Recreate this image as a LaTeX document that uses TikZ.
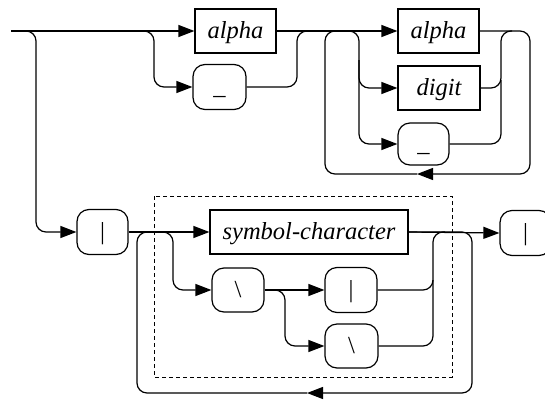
\documentclass[tikz,border=0pt]{standalone}
\usepackage{fontspec}
\setmainfont{Liberation Serif}
\usetikzlibrary{arrows.meta}
\tikzset{
  nt/.style={draw, line width=1.2pt, inner sep=0pt, text height=19pt, text depth=5pt, font=\fontsize{24.5}{28}\selectfont\itshape},
  tm/.style={draw, line width=1.2pt, inner sep=0pt, text height=19pt, text depth=5pt, rounded corners=12pt, font=\fontsize{24.5}{28}\selectfont},
  conn/.style={line width=1.2pt, rounded corners=10pt},
  arr/.style={conn, -{Triangle[length=16pt,width=12pt]}},
  frame/.style={line width=0.9pt, dash pattern=on 4pt off 3pt}
}
\begin{document}
\begin{tikzpicture}[x=1pt,y=-1pt]
\useasboundingbox (0,0) rectangle (545,399);
\clip (0,0) rectangle (545,399);
% nodes
\node[nt, minimum width=81pt, minimum height=44pt] (A1) at (235.5,31) {alpha};
\node[tm, minimum width=53pt, minimum height=45pt] (U1) at (219.5,87) {\char`\_};
\node[nt, minimum width=81pt, minimum height=44pt] (A2) at (438.5,31) {alpha};
\node[nt, minimum width=82pt, minimum height=44pt] (D) at (439,88) {digit};
\node[tm, minimum width=51pt, minimum height=42pt] (U2) at (423.5,144) {\char`\_};
\node[tm, minimum width=51pt, minimum height=45pt] (P1) at (102.5,232) {|};
\node[nt, minimum width=198pt, minimum height=44pt] (S) at (309,232) {symbol-character};
\node[tm, minimum width=52pt, minimum height=44pt] (B1) at (238,290) {\textbackslash};
\node[tm, minimum width=52pt, minimum height=45pt] (P2) at (351,290) {|};
\node[tm, minimum width=53pt, minimum height=44pt] (B2) at (351.5,346) {\textbackslash};
\node[tm, minimum width=51pt, minimum height=45pt] (P3) at (525.5,233) {|};
\draw[frame] (154,196) rectangle (452,377);
% coordinates
\coordinate (start) at (11,31);
\coordinate (tl) at (417,174);
\coordinate (bl) at (307,393);
% top part
\draw[arr] (start) -- (A1.west);
\draw[arr] (start) -- (36,31) |- (P1.west);
\draw[arr] (130,31) -- (154,31) |- (U1.west);
\draw[conn] (U1.east) -- (297,87) -- (297,31) -- (312,31);
\draw[arr] (A1.east) -- (A2.west);
\draw[arr] (A2.east) -- (530,31) -- (530,174) -- (tl);
\draw[conn] (tl) -- (325,174) -- (325,31) -- (340,31);
\draw[arr] (340,31) -- (359,31) -- (359,144) -- (U2.west);
\draw[arr] (359,60) |- (D.west);
\draw[conn] (D.east) -| (501,31) -- (512,31);
\draw[conn] (U2.east) -| (501,80);
% bottom part
\draw[arr] (P1.east) -- (S.west);
\draw[arr] (S.east) -- (P3.west);
\draw[arr] (S.east) -- (472,232) -- (472,393) -- (bl);
\draw[conn] (bl) -- (137,393) -- (137,232) -- (155,232);
\draw[arr] (150,232) -- (173,232) |- (B1.west);
\draw[arr] (B1.east) -- (P2.west);
\draw[arr] (265,290) -- (285,290) |- (B2.west);
\draw[conn] (P2.east) -| (433,232) -- (445,232);
\draw[conn] (B2.east) -| (433,280);
\end{tikzpicture}
\end{document}
